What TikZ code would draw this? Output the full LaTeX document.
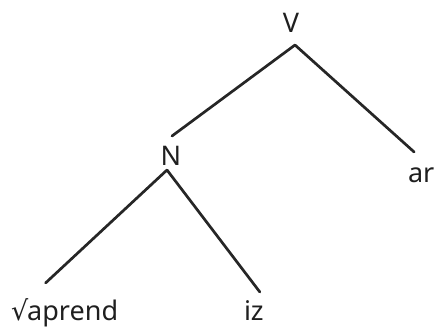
\documentclass[tikz,border=0pt]{standalone}
\usepackage{fontspec}
\setmainfont{Noto Sans}
\newfontfamily\symfam{DejaVu Sans}
\usepackage{tikz}
\usetikzlibrary{positioning}

\begin{document}
\begin{tikzpicture}[x=1pt,y=-1pt,font=\fontsize{27}{31}\selectfont,
    lbl/.style={inner sep=0pt,outer sep=0pt,text height=19pt,text depth=6pt,text=black!88},
    branch/.style={line width=2.7pt,black!85,line cap=round}]
  \useasboundingbox (0,0) rectangle (434,327);
  % labels of the tree (baselines)
  \node[lbl,anchor=base] (V) at (291,32) {V};
  \node[lbl,anchor=base] (N) at (171,165) {N};
  \node[lbl,anchor=base west] (ar) at (408,182) {ar};
  \node[lbl,anchor=base west] (aprend) at (11,320) {{\symfam √}\kern-1pt aprend};
  \node[lbl,anchor=base west] (iz) at (244,320) {iz};
  % branch points
  \coordinate (Vtop) at ([xshift=4pt,yshift=-7pt]V.south);
  \coordinate (Ntop) at ([xshift=-4pt,yshift=1pt]N.south);
  % branches
  \draw[branch] (Vtop) -- ([xshift=1pt,yshift=10pt]N.north);
  \draw[branch] (Vtop) -- ([xshift=-7pt,yshift=11pt]ar.north);
  \draw[branch] (Ntop) -- ([xshift=-19pt,yshift=18pt]aprend.north);
  \draw[branch] (Ntop) -- ([xshift=6pt,yshift=9pt]iz.north);
\end{tikzpicture}
\end{document}
